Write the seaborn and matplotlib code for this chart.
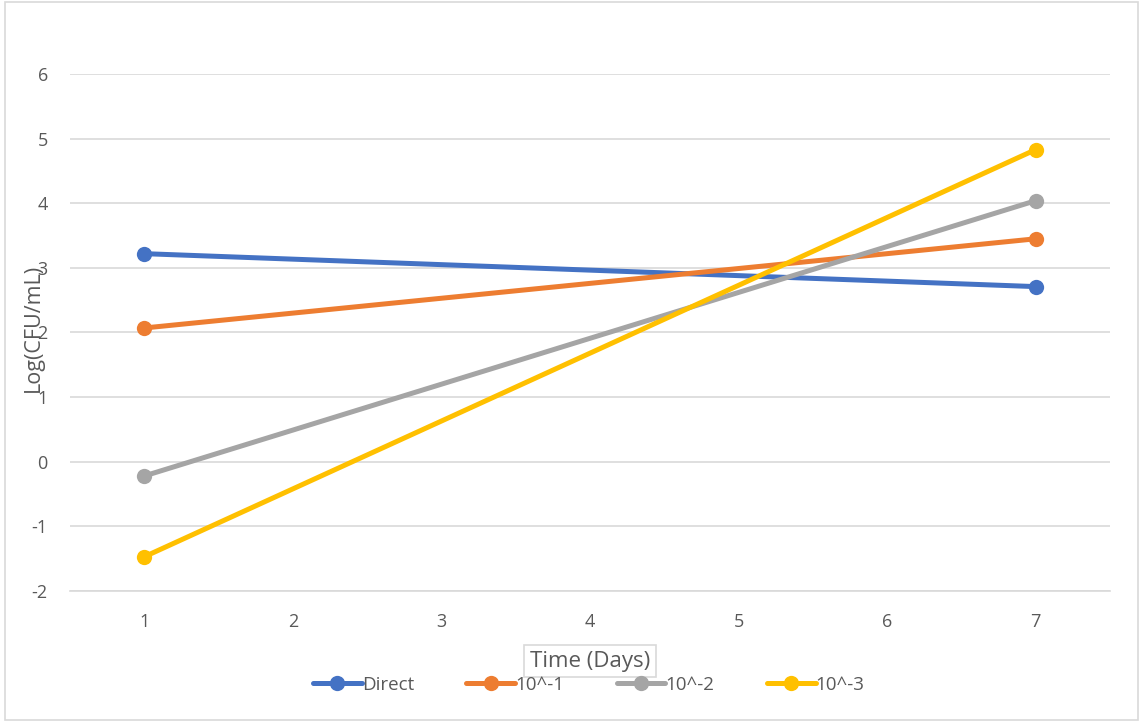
import matplotlib
matplotlib.use("Agg")
import matplotlib.pyplot as plt
import seaborn as sns
import pandas as pd
from matplotlib.patches import Rectangle

days = [1, 7]
series_names = ["Direct", "10^-1", "10^-2", "10^-3"]
direct = [3.22, 2.71]
d1 = [2.07, 3.45]
d2 = [-0.22, 4.04]
d3 = [-1.47, 4.83]
colors = ["#4472C4", "#ED7D31", "#A5A5A5", "#FFC000"]
yticks = [-2, -1, 0, 1, 2, 3, 4, 5, 6]
xticks = [1, 2, 3, 4, 5, 6, 7]

rows = []
for name, vals in zip(series_names, [direct, d1, d2, d3]):
    for d, v in zip(days, vals):
        rows.append({"Day": d, "Value": v, "Series": name})
df = pd.DataFrame(rows)

sns.set_theme(style="white")
plt.rcParams["font.family"] = ["Open Sans", "DejaVu Sans"]

fig = plt.figure(figsize=(11.43, 7.22), dpi=100)
ax = fig.add_axes([70/1143, 1-591/722, (1110-70)/1143, (591-74)/722])

sns.lineplot(data=df, x="Day", y="Value", hue="Series", palette=colors,
             marker="o", markersize=11, markeredgewidth=0, linewidth=3.6,
             ax=ax, legend=True, zorder=3)

ax.set_xlim(0.5, 7.5)
ax.set_ylim(-2, 6)
ax.set_xticks(xticks)
ax.set_yticks(yticks)
ax.set_xticklabels([str(x) for x in xticks])
ax.set_yticklabels([str(y) for y in yticks])
ax.grid(axis="y", color="#D9D9D9", linewidth=1.2, zorder=0)
ax.grid(axis="x", visible=False)
for s in ["top", "right", "left"]:
    ax.spines[s].set_visible(False)
ax.spines["bottom"].set_color("#D9D9D9")
ax.spines["bottom"].set_linewidth(1.2)
ax.tick_params(axis="both", length=0, labelsize=13, labelcolor="#595959")
ax.tick_params(axis="x", pad=16)
ax.tick_params(axis="y", pad=16)
ax.set_xlabel("")
ax.set_ylabel("")

fig.text(33/1143, 1-328/722, "Log(CFU/mL)", rotation=90, ha="center", va="center",
         fontsize=15.5, color="#595959")
fig.text(590/1143, 1-661/722, "Time (Days)", ha="center", va="center",
         fontsize=16, color="#595959",
         bbox=dict(boxstyle="square,pad=0.25", fc="white", ec="#D9D9D9", lw=1.2))

handles, labels = ax.get_legend_handles_labels()
ax.get_legend().remove()
leg = fig.legend(handles, labels, loc="center", bbox_to_anchor=(0.515, 1-685/722),
                 ncol=4, frameon=False, fontsize=13.5, handlelength=2.6,
                 handletextpad=0.0, columnspacing=2.8, labelcolor="#595959")

fig.patches.append(Rectangle((0.004, 0.003), 0.992, 0.994, transform=fig.transFigure,
                             fill=False, ec="#D9D9D9", lw=1.2))

fig.savefig("out.png", dpi=100, facecolor="white")
